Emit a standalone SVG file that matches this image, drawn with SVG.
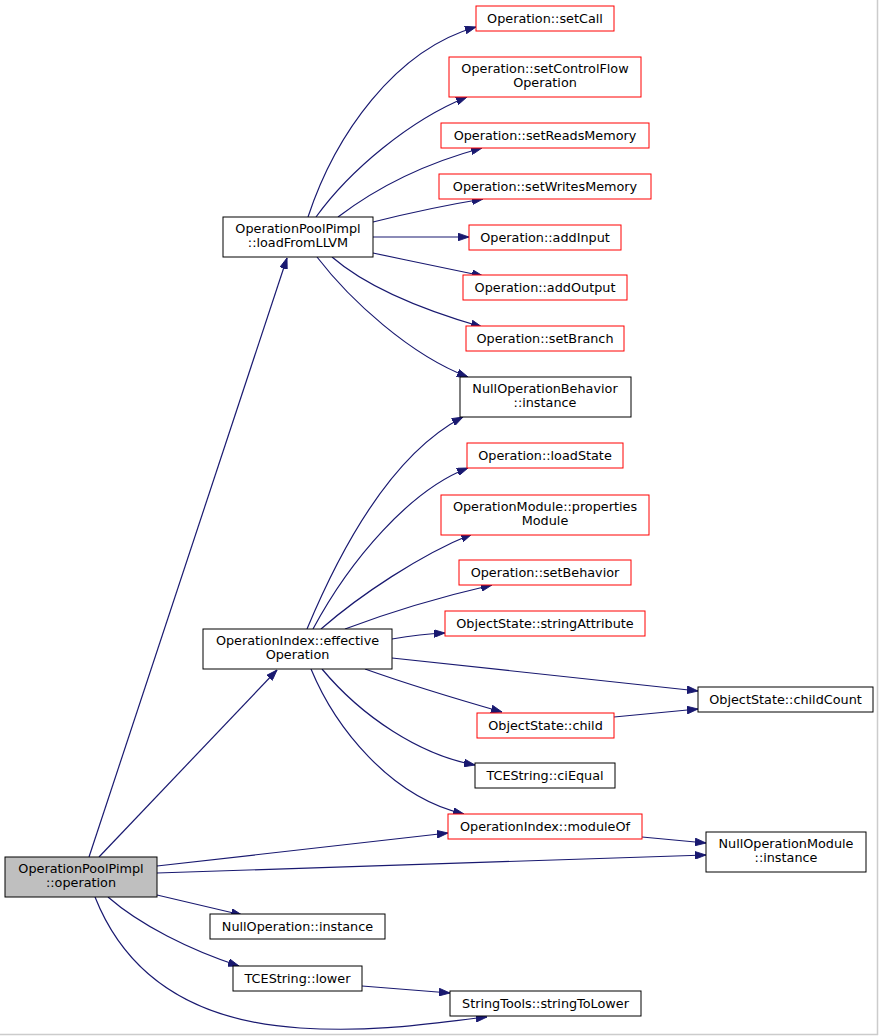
<svg xmlns="http://www.w3.org/2000/svg" width="879" height="1036" viewBox="0 0 879 1036">
<defs>
<style>
.n rect{fill:#ffffff;stroke:#000000;stroke-width:1}
.n.r rect{stroke:#ff0000}
.n.g rect{fill:#bfbfbf}
text{font-family:"DejaVu Sans","Liberation Sans",sans-serif;font-size:12.8px;fill:#000000;text-anchor:middle}
#edges path{fill:none;stroke:#191970;stroke-width:1.2;marker-end:url(#a)}
</style>
<marker id="a" viewBox="0 0 10 7" refX="10" refY="3.5" markerWidth="11" markerHeight="8" orient="auto" markerUnits="userSpaceOnUse">
<path d="M0,0 L10,3.5 L0,7 z" fill="#191970" stroke="#191970" stroke-width="0.8"/>
</marker>
</defs>
<rect x="0" y="0" width="879" height="1036" fill="#ffffff"/>
<line x1="877.5" y1="0" x2="877.5" y2="1035" stroke="#cccccc" stroke-width="1.5"/>
<line x1="0" y1="1034.5" x2="878" y2="1034.5" stroke="#cccccc" stroke-width="1.5"/>

<g id="edges">
<path d="M89,857 L287,258"/>
<path d="M99,857 L277,670"/>
<path d="M157,866 L448,833"/>
<path d="M157,873 L706,855"/>
<path d="M157,895 L242,915"/>
<path d="M108,897 C140,925 190,950 239,966"/>
<path d="M95,897 C120,960 175,1020 300,1028 C380,1033 440,1022 487,1017"/>
<path d="M362,986 L450,993"/>
<path d="M642,837 L706,843"/>
<path d="M614,717 L698,709"/>
<path d="M308,217 C335,135 395,50 476,27"/>
<path d="M316,217 C350,170 410,120 467,97"/>
<path d="M338,217 C380,185 430,162 482,148"/>
<path d="M373,222 C405,214 440,206 483,199"/>
<path d="M373,237 L469,237"/>
<path d="M373,253 C410,261 450,269 483,276"/>
<path d="M332,257 C370,290 430,312 482,327"/>
<path d="M317,257 C350,300 410,355 468,377"/>
<path d="M307,629 C340,550 390,455 463,417"/>
<path d="M313,629 C350,560 410,490 468,468"/>
<path d="M321,629 C360,595 420,555 472,534"/>
<path d="M345,629 C390,612 440,597 492,585"/>
<path d="M392,639 C410,636 425,634 445,633"/>
<path d="M392,658 L698,691"/>
<path d="M365,669 C410,685 460,700 502,712"/>
<path d="M322,669 C362,717 420,755 475,765"/>
<path d="M311,669 C335,727 390,797 464,814"/>
</g>

<g id="n_operation" class="n g"><rect x="5" y="857" width="152" height="40"/><text x="81" y="873">OperationPoolPimpl</text><text x="81" y="887">::operation</text></g>
<g id="n_loadFromLLVM" class="n"><rect x="223" y="217" width="150" height="40"/><text x="298" y="233">OperationPoolPimpl</text><text x="298" y="247">::loadFromLLVM</text></g>
<g id="n_setCall" class="n r"><rect x="476" y="6" width="138" height="25"/><text x="545" y="23">Operation::setCall</text></g>
<g id="n_setControlFlow" class="n r"><rect x="449" y="57" width="192" height="40"/><text x="545" y="73">Operation::setControlFlow</text><text x="545" y="87">Operation</text></g>
<g id="n_setReadsMemory" class="n r"><rect x="441" y="123" width="208" height="25"/><text x="545" y="140">Operation::setReadsMemory</text></g>
<g id="n_setWritesMemory" class="n r"><rect x="439" y="174" width="212" height="25"/><text x="545" y="191">Operation::setWritesMemory</text></g>
<g id="n_addInput" class="n r"><rect x="469" y="225" width="152" height="25"/><text x="545" y="242">Operation::addInput</text></g>
<g id="n_addOutput" class="n r"><rect x="463" y="275" width="164" height="25"/><text x="545" y="292">Operation::addOutput</text></g>
<g id="n_setBranch" class="n r"><rect x="466" y="326" width="158" height="25"/><text x="545" y="343">Operation::setBranch</text></g>
<g id="n_nullOpBehavior" class="n"><rect x="460" y="377" width="171" height="40"/><text x="545" y="393">NullOperationBehavior</text><text x="545" y="407">::instance</text></g>
<g id="n_loadState" class="n r"><rect x="467" y="443" width="156" height="25"/><text x="545" y="460">Operation::loadState</text></g>
<g id="n_propertiesModule" class="n r"><rect x="441" y="495" width="208" height="40"/><text x="545" y="511">OperationModule::properties</text><text x="545" y="525">Module</text></g>
<g id="n_setBehavior" class="n r"><rect x="459" y="560" width="172" height="25"/><text x="545" y="577">Operation::setBehavior</text></g>
<g id="n_stringAttribute" class="n r"><rect x="445" y="611" width="200" height="25"/><text x="545" y="628">ObjectState::stringAttribute</text></g>
<g id="n_effectiveOperation" class="n"><rect x="203" y="629" width="189" height="40"/><text x="297.5" y="645">OperationIndex::effective</text><text x="297.5" y="659">Operation</text></g>
<g id="n_childCount" class="n"><rect x="698" y="687" width="175" height="25"/><text x="785.5" y="704">ObjectState::childCount</text></g>
<g id="n_child" class="n r"><rect x="477" y="713" width="137" height="25"/><text x="545.5" y="730">ObjectState::child</text></g>
<g id="n_ciEqual" class="n"><rect x="475" y="763" width="140" height="25"/><text x="545" y="780">TCEString::ciEqual</text></g>
<g id="n_moduleOf" class="n r"><rect x="448" y="814" width="194" height="25"/><text x="545" y="831">OperationIndex::moduleOf</text></g>
<g id="n_nullOpModule" class="n"><rect x="706" y="832" width="160" height="40"/><text x="786" y="848">NullOperationModule</text><text x="786" y="862">::instance</text></g>
<g id="n_nullOperation" class="n"><rect x="210" y="914" width="175" height="25"/><text x="297.5" y="931">NullOperation::instance</text></g>
<g id="n_lower" class="n"><rect x="233" y="966" width="129" height="25"/><text x="297.5" y="983">TCEString::lower</text></g>
<g id="n_stringToLower" class="n"><rect x="450" y="991" width="191" height="25"/><text x="545.5" y="1008">StringTools::stringToLower</text></g>
</svg>
